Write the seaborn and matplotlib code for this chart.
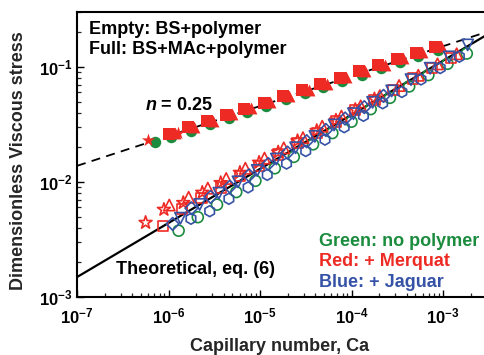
import numpy as np
import matplotlib
matplotlib.use("Agg")
import matplotlib.pyplot as plt
from matplotlib.ticker import LogLocator, NullFormatter, FixedLocator
import seaborn as sns

# ---------------- data ----------------
# Full symbols: BS+MAc+polymer (upper branch)
full_green_ca = [7.08e-7, 1.07e-6, 1.74e-6, 2.82e-6, 4.57e-6, 7.24e-6, 1.17e-5, 1.91e-5,
                 3.09e-5, 4.90e-5, 7.94e-5, 1.29e-4, 2.09e-4, 3.39e-4, 5.37e-4, 8.71e-4]
full_green_y = [0.0224, 0.0247, 0.0280, 0.0317, 0.0360, 0.0405, 0.0460, 0.0521,
                0.0591, 0.0667, 0.0755, 0.0857, 0.0973, 0.1101, 0.1242, 0.1407]
full_sq_ca = [1.00e-6, 1.62e-6, 2.63e-6, 4.27e-6, 6.76e-6, 1.10e-5, 1.78e-5, 2.88e-5,
              4.57e-5, 7.41e-5, 1.20e-4, 1.95e-4, 3.16e-4, 5.01e-4, 8.13e-4]
full_sq_y = [0.0263, 0.0298, 0.0338, 0.0384, 0.0433, 0.0490, 0.0556, 0.0631,
             0.0711, 0.0805, 0.0914, 0.1036, 0.1175, 0.1324, 0.150]
full_tri_ca = [1.17e-6, 1.90e-6, 3.10e-6, 5.00e-6, 7.90e-6, 1.29e-5, 2.10e-5, 3.40e-5,
               5.40e-5, 8.70e-5, 1.41e-4, 2.30e-4, 3.70e-4, 5.90e-4, 9.50e-4]
full_tri_y = [0.0265, 0.0300, 0.0340, 0.0386, 0.0436, 0.0494, 0.0560, 0.0636,
              0.0716, 0.0812, 0.0921, 0.1044, 0.1184, 0.1334, 0.151]
full_star_ca = [6.0e-7, 1.26e-6]
full_star_y = [0.0232, 0.0266]

# Empty symbols: BS+polymer (lower branch)
emp_green_ca = [1.29e-6, 2.09e-6, 3.39e-6, 5.50e-6, 8.91e-6, 1.45e-5, 2.34e-5, 3.80e-5,
                6.17e-5, 1.00e-4, 1.62e-4, 2.63e-4, 4.27e-4, 6.92e-4, 1.12e-3, 1.82e-3]
emp_green_y = [0.00377, 0.00494, 0.00635, 0.00817, 0.01023, 0.01315, 0.01652, 0.02123,
               0.02661, 0.03342, 0.04295, 0.05383, 0.06761, 0.08492, 0.1064, 0.1306]
emp_sq_ca = [8.71e-7, 1.41e-6, 2.29e-6, 3.72e-6, 6.03e-6, 9.77e-6, 1.58e-5, 2.57e-5,
             4.17e-5, 6.76e-5, 1.10e-4, 1.78e-4, 2.88e-4, 4.68e-4, 7.59e-4, 1.23e-3]
emp_sq_y = [0.00413, 0.00581, 0.00729, 0.00895, 0.01125, 0.01377, 0.01730, 0.02173,
            0.02661, 0.03342, 0.04198, 0.05140, 0.0631, 0.0792, 0.0973, 0.1191]
emp_tri_ca = [1.02e-6, 1.66e-6, 2.69e-6, 4.27e-6, 6.92e-6, 1.12e-5, 1.82e-5, 2.95e-5,
              4.79e-5, 7.76e-5, 1.26e-4, 2.04e-4, 3.31e-4, 5.37e-4, 8.71e-4, 1.41e-3]
emp_tri_y = [0.00630, 0.00736, 0.00883, 0.01072, 0.01315, 0.01611, 0.01977, 0.02427,
             0.03048, 0.03733, 0.04581, 0.05623, 0.06887, 0.08453, 0.1062, 0.1300]
emp_star_ca = [5.62e-7, 8.91e-7, 1.45e-6, 2.34e-6, 3.72e-6, 6.03e-6, 9.77e-6, 1.58e-5,
               2.57e-5, 4.17e-5, 6.76e-5, 1.10e-4, 1.78e-4]
emp_star_y = [0.00443, 0.00575, 0.00659, 0.00809, 0.00982, 0.01205, 0.01476, 0.01811,
              0.02275, 0.02786, 0.03430, 0.04250, 0.05250]
emp_dia_ca = [1.11e-6, 1.78e-6, 2.88e-6, 4.68e-6, 7.59e-6, 1.23e-5, 2.00e-5, 3.24e-5,
              5.25e-5, 8.51e-5, 1.38e-4, 2.24e-4]
emp_dia_y = [0.00432, 0.00591, 0.00741, 0.00910, 0.01143, 0.01432, 0.01799, 0.02259,
             0.02831, 0.03556, 0.04467, 0.05598]
emp_vtri_ca = [1.35e-6, 2.19e-6, 3.55e-6, 5.75e-6, 9.33e-6, 1.51e-5, 2.45e-5, 3.98e-5,
               6.46e-5, 1.05e-4, 1.70e-4, 2.75e-4, 4.47e-4, 7.24e-4, 1.17e-3, 1.86e-3]
emp_vtri_y = [0.00484, 0.00637, 0.00798, 0.01002, 0.01259, 0.01581, 0.01982, 0.02489,
              0.03126, 0.03917, 0.04920, 0.06180, 0.07745, 0.09727, 0.1222, 0.1552]
emp_hex_ca = [1.76e-6, 2.82e-6, 4.57e-6, 7.41e-6, 1.20e-5, 1.95e-5, 3.16e-5, 5.13e-5,
              8.32e-5, 1.35e-4, 2.19e-4, 3.55e-4, 5.75e-4, 9.33e-4, 1.51e-3]
emp_hex_y = [0.00479, 0.00557, 0.00714, 0.00897, 0.01153, 0.01445, 0.01858, 0.02333,
             0.02992, 0.03758, 0.04831, 0.06053, 0.07780, 0.09772, 0.1227]

# Lines
dash_ca = [1e-7, 1e-2]
dash_y = [0.0138, 0.275]
theory_ca = [1e-7, 1e-2]
theory_y = [0.00149, 0.334]

x_ticks = [1e-7, 1e-6, 1e-5, 1e-4, 1e-3]
y_ticks = [1e-3, 1e-2, 1e-1]

# ---------------- style ----------------
sns.set_style("ticks")
plt.rcParams["font.family"] = ["Liberation Sans", "DejaVu Sans"]
plt.rcParams["font.weight"] = "bold"
plt.rcParams["axes.labelweight"] = "bold"
plt.rcParams["mathtext.default"] = "regular"
plt.rcParams["mathtext.fontset"] = "custom"
plt.rcParams["mathtext.it"] = "Liberation Sans:italic:bold"
plt.rcParams["mathtext.rm"] = "Liberation Sans:bold"
plt.rcParams["mathtext.bf"] = "Liberation Sans:bold"

GREEN = "#1b8c3e"
RED = "#ee2a24"
BLUE = "#3552a6"

W, H = 484, 355
fig = plt.figure(figsize=(W / 100, H / 100), dpi=100)
ax = fig.add_axes([77 / W, (H - 297) / H, 457.5 / W, 285 / H])
ax.set_xscale("log")
ax.set_yscale("log")
ax.set_xlim(1e-7, 1e-2)
ax.set_ylim(1e-3, 0.3)

# lines
sns.lineplot(x=dash_ca, y=dash_y, ax=ax, color="black", lw=1.3,
             linestyle=(0, (5, 3.5)), sort=False, estimator=None, zorder=1)
sns.lineplot(x=theory_ca, y=theory_y, ax=ax, color="black", lw=1.6,
             sort=False, estimator=None, zorder=1)

S = 68
# upper branch (filled)
sns.scatterplot(x=full_green_ca, y=full_green_y, ax=ax, marker="o", s=S,
                color=GREEN, edgecolor=GREEN, linewidth=0, zorder=3)
sns.scatterplot(x=full_star_ca, y=full_star_y, ax=ax, marker="*", s=100,
                color=RED, edgecolor=RED, linewidth=0, zorder=4)
sns.scatterplot(x=full_sq_ca, y=full_sq_y, ax=ax, marker="s", s=S,
                color=RED, edgecolor=RED, linewidth=0, zorder=4)
sns.scatterplot(x=full_tri_ca, y=full_tri_y, ax=ax, marker="^", s=S + 5,
                color=RED, edgecolor=RED, linewidth=0, zorder=4)

# lower branch (open)
def open_pts(xs, ys, m, c, s=S, z=3):
    sns.scatterplot(x=xs, y=ys, ax=ax, marker=m, s=s, facecolor="none",
                    edgecolor=c, linewidth=1.2, zorder=z)

open_pts(emp_green_ca, emp_green_y, "o", GREEN, s=62, z=3)
open_pts(emp_sq_ca, emp_sq_y, "s", RED, s=56, z=4)
open_pts(emp_tri_ca, emp_tri_y, "^", RED, s=66, z=4)
open_pts(emp_star_ca, emp_star_y, "*", RED, s=95, z=4)
open_pts(emp_dia_ca, emp_dia_y, "D", BLUE, s=42, z=5)
open_pts(emp_vtri_ca, emp_vtri_y, "v", BLUE, s=66, z=5)
open_pts(emp_hex_ca, emp_hex_y, "h", BLUE, s=62, z=5)

# axes styling
for side in ["left", "bottom", "top", "right"]:
    ax.spines[side].set_linewidth(1.5)
    ax.spines[side].set_color("black")
ax.xaxis.set_major_locator(FixedLocator(x_ticks))
ax.yaxis.set_major_locator(FixedLocator(y_ticks))
ax.xaxis.set_minor_locator(LogLocator(base=10, subs=np.arange(2, 10), numticks=20))
ax.yaxis.set_minor_locator(LogLocator(base=10, subs=np.arange(2, 10), numticks=20))
ax.xaxis.set_minor_formatter(NullFormatter())
ax.yaxis.set_minor_formatter(NullFormatter())
ax.tick_params(which="major", direction="in", length=5, width=1.0, labelsize=12,
               top=False, right=False, colors="black")
ax.tick_params(which="minor", direction="in", length=3, width=0.9,
               top=False, right=False)
ax.tick_params(axis="x", which="major", pad=7)
ax.tick_params(axis="y", which="major", pad=3)
ax.set_xlabel("")
ax.set_ylabel("")

fig.text(280 / W, 1 - 351 / H, "Capillary number, Ca", ha="center", va="baseline",
         fontsize=13, fontweight="bold")
fig.text(23.5 / W, 1 - 161 / H, "Dimensionless Viscous stress", rotation=90,
         ha="center", va="baseline", fontsize=13, fontweight="bold",
         rotation_mode="anchor")

def t(x, y, s, c="black"):
    fig.text(x / W, 1 - y / H, s, ha="left", va="baseline", fontsize=13,
             fontweight="bold", color=c)

t(89, 34, "Empty: BS+polymer")
t(89, 54.5, "Full: BS+MAc+polymer")
t(145, 110, r"$\mathit{n}$ = 0.25")
t(116, 274, "Theoretical, eq. (6)")
t(319, 246, "Green: no polymer", GREEN)
t(319, 266.5, "Red: + Merquat", RED)
t(319, 287, "Blue: + Jaguar", BLUE)

fig.savefig("out.png", dpi=100)
